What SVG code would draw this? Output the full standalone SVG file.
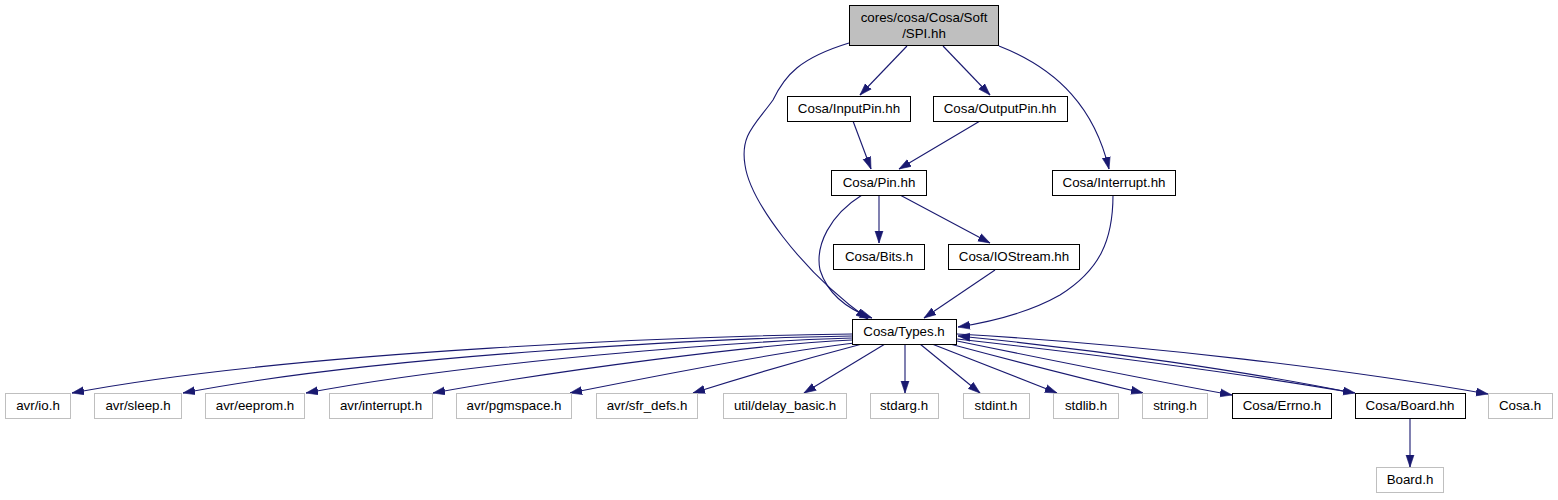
<svg xmlns="http://www.w3.org/2000/svg" width="1558" height="500" viewBox="0 0 1558 500">
<style>
text{font-family:"Liberation Sans",Arial,sans-serif;font-size:13.33px;text-anchor:middle;fill:#000}
.n rect{fill:#fff;stroke:#000;stroke-width:1}
.g rect{fill:#fff;stroke:#bfbfbf;stroke-width:1}
.root rect{fill:#bfbfbf;stroke:#000;stroke-width:1}
#edges path{fill:none;stroke:#191970;stroke-width:1.1;marker-end:url(#ah)}
</style>
<defs>
<marker id="ah" markerUnits="userSpaceOnUse" markerWidth="13" markerHeight="10" refX="12" refY="4.5" orient="auto">
<path d="M0,0.5 L12,4.5 L0,8.5 z" fill="#191970" stroke="#191970" stroke-width="0.6"/>
</marker>
</defs>
<rect width="1558" height="500" fill="#fff"/>
<g id="edges">
<path d="M907,46 L860,95"/>
<path d="M943,46 L990,95"/>
<path d="M999,46 C1060,70 1095,110 1109,169"/>
<path d="M849,43 C800,58 785,75 773,100 C755,125 740,135 745,165 C750,200 800,270 868,319"/>
<path d="M853,121 L871,169"/>
<path d="M980,121 L899,169"/>
<path d="M879,195 L879,243"/>
<path d="M900,195 L990,243"/>
<path d="M862,195 C830,215 815,245 820,270 C828,295 850,310 872,318"/>
<path d="M995,270 L924,318"/>
<path d="M1113,195 C1113,240 1100,270 1060,295 C1030,312 990,322 958,327"/>
<path d="M852,334 C700,336 300,350 72,393"/>
<path d="M852,336 C720,338 380,355 183,393"/>
<path d="M852,338 C740,341 470,362 306,393"/>
<path d="M852,340 C760,344 560,370 433,393"/>
<path d="M855,343 C790,350 660,375 570,393"/>
<path d="M862,344 C820,355 750,375 693,393"/>
<path d="M885,344 L804,393"/>
<path d="M905,344 L905,393"/>
<path d="M920,344 L980,393"/>
<path d="M932,344 L1057,393"/>
<path d="M950,344 C1010,360 1080,378 1143,393"/>
<path d="M957,341 C1050,360 1150,380 1232,395"/>
<path d="M957,339 C1100,355 1250,375 1355,393"/>
<path d="M1353,393 C1250,372 1100,350 958,336"/>
<path d="M957,334 C1150,345 1350,370 1488,394"/>
<path d="M1410,419 L1410,467"/>
</g>
<g id="spi" class="root"><rect x="849.5" y="5.5" width="149" height="40"/><text x="924" y="22">cores/cosa/Cosa/Soft</text><text x="924" y="38">/SPI.hh</text></g>
<g id="inputpin" class="n"><rect x="787.5" y="96.5" width="123" height="25"/><text x="849" y="113">Cosa/InputPin.hh</text></g>
<g id="outputpin" class="n"><rect x="933.5" y="96.5" width="134" height="25"/><text x="1000" y="113">Cosa/OutputPin.hh</text></g>
<g id="pin" class="n"><rect x="831.5" y="170.5" width="95" height="25"/><text x="879" y="187">Cosa/Pin.hh</text></g>
<g id="interrupt" class="n"><rect x="1052.5" y="170.5" width="123" height="25"/><text x="1114" y="187">Cosa/Interrupt.hh</text></g>
<g id="bits" class="n"><rect x="833.5" y="244.5" width="91" height="25"/><text x="879" y="261">Cosa/Bits.h</text></g>
<g id="iostream" class="n"><rect x="948.5" y="244.5" width="131" height="25"/><text x="1014" y="261">Cosa/IOStream.hh</text></g>
<g id="types" class="n"><rect x="852.5" y="319.5" width="104" height="25"/><text x="904" y="336">Cosa/Types.h</text></g>
<g id="avr_io" class="g"><rect x="5.5" y="393.5" width="65" height="25"/><text x="38" y="410">avr/io.h</text></g>
<g id="avr_sleep" class="g"><rect x="94.5" y="393.5" width="87" height="25"/><text x="138" y="410">avr/sleep.h</text></g>
<g id="avr_eeprom" class="g"><rect x="205.5" y="393.5" width="99" height="25"/><text x="255" y="410">avr/eeprom.h</text></g>
<g id="avr_interrupt" class="g"><rect x="329.5" y="393.5" width="103" height="25"/><text x="381" y="410">avr/interrupt.h</text></g>
<g id="avr_pgmspace" class="g"><rect x="456.5" y="393.5" width="115" height="25"/><text x="514" y="410">avr/pgmspace.h</text></g>
<g id="avr_sfr_defs" class="g"><rect x="596.5" y="393.5" width="101" height="25"/><text x="647" y="410">avr/sfr_defs.h</text></g>
<g id="delay_basic" class="g"><rect x="723.5" y="393.5" width="123" height="25"/><text x="785" y="410">util/delay_basic.h</text></g>
<g id="stdarg" class="g"><rect x="870.5" y="393.5" width="68" height="25"/><text x="904" y="410">stdarg.h</text></g>
<g id="stdint" class="g"><rect x="963.5" y="393.5" width="66" height="25"/><text x="996" y="410">stdint.h</text></g>
<g id="stdlib" class="g"><rect x="1053.5" y="393.5" width="65" height="25"/><text x="1086" y="410">stdlib.h</text></g>
<g id="string" class="g"><rect x="1142.5" y="393.5" width="65" height="25"/><text x="1175" y="410">string.h</text></g>
<g id="errno" class="n"><rect x="1232.5" y="393.5" width="99" height="25"/><text x="1282" y="410">Cosa/Errno.h</text></g>
<g id="board_hh" class="n"><rect x="1355.5" y="393.5" width="110" height="25"/><text x="1410" y="410">Cosa/Board.hh</text></g>
<g id="cosa_h" class="g"><rect x="1488.5" y="393.5" width="64" height="25"/><text x="1520" y="410">Cosa.h</text></g>
<g id="board_h" class="g"><rect x="1376.5" y="467.5" width="67" height="25"/><text x="1410" y="484">Board.h</text></g>
</svg>
